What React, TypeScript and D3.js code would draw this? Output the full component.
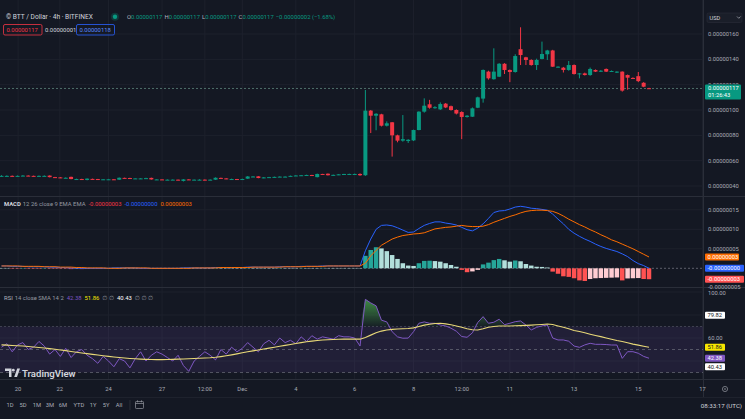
import React from "react";
import * as d3 from "d3";

// ---------- DATA (price in units of 0.00000001 USD) ----------
const ohlc: [number, number, number, number][] = [
  [48,48.5,47.5,48],[48,48.4,47.6,48],[48,48.3,47.5,47.8],[47.8,48.3,47.6,48],[48,48.6,47.8,48.2],
  [48.2,48.4,47.8,48],[48,48.2,47.5,47.8],[47.8,48.3,47.6,48],[48,48.4,47.7,48],[48.2,48.4,46.8,47],
  [47,47.2,46.5,46.8],[46.8,47,46.2,46.5],[46.5,46.8,46.2,46.5],[47.2,47.4,45.3,45.5],[45.5,45.8,45.2,45.5],
  [45.5,45.7,45,45.3],[44.8,46,44.5,45.8],[45.6,45.8,45.2,45.5],[45.5,45.6,45.1,45.3],[45.3,45.5,45,45.3],
  [45.3,45.6,45.1,45.3],[45.3,45.5,44.9,45.1],[45,46.7,44.8,46.5],[46.4,46.6,46,46.3],[46.3,46.5,45.8,46],
  [46,46.2,45.8,46],[46,46.3,45.7,46],[46,46.5,45.9,46.2],[46.4,46.6,45,45.2],[45.2,45.4,44.9,45.2],
  [45.2,45.3,44.8,45],[45,45.2,44.7,45],[45,45.3,44.8,45],[45,45.1,44.5,44.8],[44,45.4,43.6,45.2],
  [45.2,45.4,44.8,45],[45,45.2,44.8,45],[45,45.3,44.6,45],[45,45.2,44.5,44.8],[44.8,45.2,44.6,45],
  [45,46.8,44.8,46.5],[46.4,46.6,45.8,46],[46,46.1,45.4,45.5],[45.5,45.8,45.2,45.5],[45.5,45.6,45.1,45.3],
  [45.3,45.8,45.2,45.5],[45.8,47.8,45.6,47.5],[47.5,47.8,47.2,47.5],[47.6,47.8,46.1,46.3],[46.3,47,46.1,46.8],
  [46.8,47.2,46.6,47],[47,47.4,46.8,47.2],[47.2,47.6,47,47.4],[47.4,47.6,47.1,47.4],[47.6,48.2,47.5,48],
  [48,48.5,47.9,48.3],[48.3,48.7,48.1,48.5],[48.5,48.9,48.3,48.7],[48.7,48.8,48.2,48.5],[47,49.8,46.8,49.5],
  [49.5,49.6,49.1,49.3],[49.7,49.9,48.3,48.5],[48.5,49,48.3,48.8],[48.8,49.3,48.6,49.2],[49.2,49.6,49,49.5],
  [49.5,49.7,49.3,49.5],[49.5,49.8,49.2,49.5],
  [49.5,50,48,48.5],[48.5,115.8,48,99.5],[99.5,100,81.8,95.5],[95.5,97.5,84,97],[96.6,97,87,87.6],
  [87.6,91,87,89.5],[90.3,90.5,63.2,80],[80,80.5,74.5,75.8],[75.8,96,75,77],[75.5,77,74,76.5],
  [76,84.5,75.5,84.2],[84.2,99,84,98.7],[98.7,109.2,97.9,103.4],[104.5,108,101,101.8],[101.8,103,101,102.2],
  [100.5,106,100,104.7],[105,105.5,101.5,102],[103,103.5,99.5,100],[100,100.5,96.5,97.2],[98.4,99,77,94.5],
  [94.5,96,94,95.5],[94.7,102,94.5,101.3],[101.8,110.5,101.5,110],[109,132,105.8,131.6],[130.3,131,124,125],
  [124.3,148.7,124,130.3],[126.3,137,126,136.5],[136.5,137,128.4,131.6],[131.6,132,122,130],[130,144,129.5,142.6],
  [148,165.3,135.5,143.4],[141.6,142,135.5,139.5],[139.5,140,135,135.5],[135.5,140.5,131.6,139.5],[140.3,154,140,144.2],
  [144,147.5,139.5,147],[147,147.5,134,134.2],[134,134.5,133.5,134.2],[133.4,134,129.6,131.6],[131.6,138.7,131,135.5],
  [135.5,136,128,128.4],[128.9,129.2,125,128.9],[128.9,129.5,127.2,127.6],[127.6,133.5,127,132.4],[131.6,132,130,130.3],
  [130.3,131.5,130,131],[132.4,132.8,130,130.3],[130.8,131.2,130.4,130.8],[129.6,130.5,129.2,130.3],[130.3,130.5,114.5,115.3],
  [127.6,128,116,125.5],[125.3,125.8,124.6,125],[126.7,130,122,122.8],[121.5,122,118,118.4],[117.2,117.5,116.8,117],
];

const macdLine: number[] = [
  0.6,0.6,0.5,0.5,0.5,0.4,0.4,0.4,0.4,0.3,
  0.3,0.2,0.2,0.1,0.1,0.0,0.0,0.0,0.0,0.0,
  0.0,0.1,0.1,0.1,0.1,0.1,0.0,0.0,0.0,0.0,
  0.0,0.0,0.0,0.0,0.1,0.1,0.1,0.1,0.1,0.1,
  0.2,0.2,0.2,0.2,0.2,0.2,0.3,0.3,0.3,0.3,
  0.3,0.3,0.4,0.4,0.4,0.4,0.5,0.5,0.5,0.5,
  0.6,0.6,0.6,0.6,0.6,0.6,0.6,
  0.6,4.5,7.5,10.0,11.0,11.1,10.9,10.4,9.8,9.2,
  9.3,10.2,11.0,11.5,11.9,11.9,11.6,11.4,11.1,10.5,
  9.9,9.6,10.3,11.4,12.8,14.3,14.7,14.8,15.2,15.7,
  15.9,15.7,15.4,15.3,15.1,14.9,13.9,12.6,11.4,10.0,
  9.0,8.2,7.5,6.9,6.2,5.6,5.1,4.7,4.3,3.7,
  3.0,2.0,1.2,0.7,0.0,
];

const signalLine: number[] = [
  0.6,0.6,0.6,0.6,0.5,0.5,0.5,0.5,0.4,0.4,
  0.4,0.3,0.3,0.3,0.2,0.2,0.1,0.1,0.1,0.1,
  0.0,0.0,0.0,0.1,0.1,0.1,0.1,0.1,0.0,0.0,
  0.0,0.0,0.0,0.0,0.0,0.0,0.1,0.1,0.1,0.1,
  0.1,0.2,0.2,0.2,0.2,0.2,0.2,0.3,0.3,0.3,
  0.3,0.3,0.3,0.4,0.4,0.4,0.4,0.5,0.5,0.5,
  0.5,0.6,0.6,0.6,0.6,0.6,0.6,
  0.6,1.3,3.2,4.6,5.9,6.7,7.5,8.0,8.4,8.6,
  8.8,8.9,9.1,9.6,10.1,10.3,10.5,10.6,10.8,11.0,
  10.8,10.7,10.7,10.8,11.2,11.8,12.3,12.8,13.3,13.7,
  14.2,14.6,14.8,14.9,14.9,14.8,14.6,14.1,13.4,12.6,
  11.9,11.2,10.6,9.9,9.3,8.6,8.0,7.3,6.8,6.2,
  5.6,5.0,4.3,3.6,2.9,
];

const macdHist: number[] = [
  0,0,-0.1,-0.1,0,-0.1,-0.1,-0.1,0,-0.1,
  -0.1,-0.1,-0.1,-0.2,-0.1,-0.2,-0.1,-0.1,-0.1,-0.1,
  0,0.1,0.1,0,0,0,-0.1,-0.1,0,0,
  0,0,0,0,0.1,0.1,0,0,0,0,
  0.1,0,0,0,0,0,0.1,0,0,0,
  0,0,0.1,0,0,0,0.1,0,0,0,
  0.1,0,0,0,0,0,0,
  0.0,3.2,4.7,5.4,5.1,4.4,3.4,2.4,1.3,0.7,
  0.6,1.3,1.9,1.95,1.85,1.7,1.3,0.85,0.4,-0.4,
  -1.0,-0.8,-0.4,1.0,1.45,2.1,2.4,2.05,1.7,2.0,
  1.8,1.1,0.7,0.4,0.35,0.2,-0.85,-1.4,-2.05,-2.2,
  -2.55,-3.1,-3.25,-2.75,-2.55,-2.5,-2.45,-2.4,-2.35,-3.1,
  -2.6,-2.55,-2.5,-2.75,-2.8,
];

const rsiLine: number[] = [
  52,55,48,54,56,50,52,57,53,
  46,50,44,51,43,48,
  50,45,42,38,44,40,35,42,
  40,34,42,48,40,45,48,
  46,43,40,45,36,31,40,44,
  48,45,41,50,46,52,48,51,
  56,52,48,55,58,54,60,56,
  58,55,61,57,62,59,61,
  60,59,62,61,61,60,
  53.0,93.6,90.5,88.0,75.5,74.0,65.5,61.0,59.8,59.9,
  65.5,72.8,74.0,72.8,72.8,71.3,70.5,68.5,65.9,61.3,
  60.6,64.5,73.5,78.6,72.8,73.7,76.3,71.6,72.8,74.2,
  74.8,71.3,67.0,69.3,70.5,71.3,60.0,58.3,58.3,57.2,
  53.0,51.9,54.0,55.4,54.5,54.5,54.3,53.9,53.9,42.3,
  48.1,48.1,46.7,44.0,42.4,
];

const rsiMA: number[] = [
  54,53.8,53.5,53.2,53,52.6,52.2,51.8,51.3,50.8,
  50.2,49.6,49,48.3,47.6,47,46.4,45.8,45.2,44.6,
  44,43.5,43,42.6,42.2,41.9,41.6,41.4,41.3,41.2,
  41.2,41.3,41.4,41.6,41.8,42,42.2,42.4,42.6,42.8,
  43.2,43.8,44.5,45.3,46.2,47.1,48,48.8,49.6,50.4,
  51.2,52,52.8,53.6,54.4,55.2,56,56.7,57.3,57.8,
  58.2,58.5,58.7,58.9,59,59,59,
  59,60.5,62.5,64.5,66,67,67.5,67.8,68,68.3,
  68.8,70,71.2,72,72.6,72.8,72.3,71.5,70.5,69.3,
  68,67.2,67,68,69.3,70,70.5,70.5,70.5,70.7,
  70.8,71,71.2,71.5,71.8,72.2,71.8,70.5,69.3,68,
  66.5,65.6,64.5,63.3,62.2,61.2,60,58.9,57.8,56.9,
  55.8,54.7,53.8,52.8,51.9,
];

const xTickLabels = ["20","22","24","27","12:00","Dec","4","6","8","12:00","11","13","15","17"];
const xTickIndex = [3.1,10.9,20,30,38,45,55,66,77,86,95,107,119,131];
const priceTicks = [160,140,120,100,80,60,40];
const macdTicks = [15,10,5,-5];
const rsiGridTicks = [100,80,60,40];
const rsiTickLabels = [100,60];
const rangeButtons = ["1D","5D","1M","3M","6M","YTD","1Y","5Y","All"];
const lastPrice = 117;
const rsiBoxes = ["79.82","51.86","42.38","40.43"];

const fmt8 = (v: number) => (v < 0 ? "-" : "") + (Math.abs(v) * 1e-8).toFixed(8);

export default function App() {
  const W = 745, H = 419;
  const plotR = 703;
  const font = "Roboto, 'Noto Sans', 'DejaVu Sans', sans-serif";
  const up = "#089981", down = "#f23645";
  const grid = "#1d212c";
  const axisText = "#a9acb6";
  const bg = "#141823";

  const n = ohlc.length;
  const x = d3.scaleLinear().domain([0, n - 1]).range([1.5, 649]);
  const yP = d3.scaleLinear().domain([40, 160]).range([186, 34]);
  const yM = d3.scaleLinear().domain([0, 15]).range([268.3, 209.8]);
  const yR = d3.scaleLinear().domain([100, 60]).range([292, 338]);

  const line = (arr: number[], y: d3.ScaleLinear<number, number>) =>
    d3.line<number>().x((_, i) => x(i)).y((d) => y(d))(arr) || "";
  const obArea =
    d3.area<number>().x((_, i) => x(i)).y0(yR(70)).y1((d) => yR(Math.max(d, 70)))(rsiLine) || "";

  const histColor = (v: number, i: number) => {
    const p = i > 0 ? macdHist[i - 1] : 0;
    if (v >= 0) return p < v ? "#26a69a" : "#b2dfdb";
    return p < v ? "#ffcdd2" : "#ff5252";
  };

  const bodyW = 4.0;
  const histW = 4.5;

  return (
    <svg width={W} height={H} style={{ position: "fixed", left: 0, top: 0, display: "block" }} fontFamily={font}>
      <defs>
        <linearGradient id="ob" gradientUnits="userSpaceOnUse" x1="0" x2="0" y1={yR(100)} y2={yR(70)}>
          <stop offset="0" stopColor="#4caf50" stopOpacity="0.95" />
          <stop offset="1" stopColor="#4caf50" stopOpacity="0.05" />
        </linearGradient>
        <clipPath id="pp"><rect x={0} y={0} width={plotR} height={196} /></clipPath>
        <clipPath id="mp"><rect x={0} y={197} width={plotR} height={90} /></clipPath>
        <clipPath id="rp"><rect x={0} y={288} width={plotR} height={91} /></clipPath>
        <clipPath id="p120"><rect x={704} y={0} width={41} height={yP(lastPrice) - 4} /></clipPath>
      </defs>
      <rect x={0} y={0} width={W} height={H} fill={bg} />

      {/* vertical grid */}
      {xTickIndex.map((t, i) => (
        <line key={"vg" + i} x1={x(t)} x2={x(t)} y1={0} y2={379} stroke={grid} strokeWidth={1} />
      ))}
      {/* horizontal grid */}
      {priceTicks.map((t) => (
        <line key={"pg" + t} x1={0} x2={plotR} y1={yP(t)} y2={yP(t)} stroke={grid} />
      ))}
      {macdTicks.map((t) => (
        <line key={"mg" + t} x1={0} x2={plotR} y1={yM(t)} y2={yM(t)} stroke={grid} clipPath="url(#mp)" />
      ))}
      {rsiGridTicks.map((t) => (
        <line key={"rg" + t} x1={0} x2={plotR} y1={yR(t)} y2={yR(t)} stroke={grid} />
      ))}

      {/* pane separators */}
      <line x1={0} x2={W} y1={196.5} y2={196.5} stroke="#2a2e39" />
      <line x1={0} x2={W} y1={287.5} y2={287.5} stroke="#2a2e39" />
      <line x1={0} x2={W} y1={379.5} y2={379.5} stroke="#2a2e39" />
      <line x1={plotR + 0.5} x2={plotR + 0.5} y1={0} y2={398} stroke="#2a2e39" />

      {/* ---------- price pane ---------- */}
      <g clipPath="url(#pp)">
        <line x1={0} x2={plotR} y1={yP(lastPrice)} y2={yP(lastPrice)} stroke="#4f6e6a" strokeDasharray="2,2" />
        {ohlc.map(([o, h, l, c], i) => {
          const col = c >= o ? up : down;
          const top = yP(Math.max(o, c));
          const bh = Math.max(1, Math.abs(yP(o) - yP(c)));
          return (
            <g key={"c" + i}>
              <line x1={x(i)} x2={x(i)} y1={yP(h)} y2={yP(l)} stroke={col} strokeWidth={1} />
              <rect x={x(i) - bodyW / 2} y={top} width={bodyW} height={bh} fill={col} />
            </g>
          );
        })}
      </g>

      {/* ---------- MACD pane ---------- */}
      <g clipPath="url(#mp)">
        <line x1={0} x2={plotR} y1={yM(0)} y2={yM(0)} stroke="#5d606b" strokeDasharray="2,2" />
        {macdHist.map((v, i) => (
          <rect key={"h" + i} x={x(i) - histW / 2} y={Math.min(yM(v), yM(0))} width={histW}
            height={Math.max(0.3, Math.abs(yM(v) - yM(0)))} fill={histColor(v, i)} />
        ))}
        <path d={line(macdLine, yM)} fill="none" stroke="#2962ff" strokeWidth={1} />
        <path d={line(signalLine, yM)} fill="none" stroke="#ff6d00" strokeWidth={1} />
      </g>

      {/* ---------- RSI pane ---------- */}
      <g clipPath="url(#rp)">
        <rect x={0} y={yR(70)} width={plotR} height={yR(30) - yR(70)} fill="#7e57c2" fillOpacity={0.13} />
        <line x1={0} x2={plotR} y1={yR(70)} y2={yR(70)} stroke="#787b86" strokeOpacity={0.4} strokeDasharray="2,2" />
        <line x1={0} x2={plotR} y1={yR(50)} y2={yR(50)} stroke="#787b86" strokeOpacity={0.6} strokeDasharray="3,3" />
        <line x1={0} x2={plotR} y1={yR(30)} y2={yR(30)} stroke="#787b86" strokeOpacity={0.6} strokeDasharray="3,3" />
        <path d={obArea} fill="url(#ob)" />
        <path d={line(rsiLine, yR)} fill="none" stroke="#7e57c2" strokeWidth={1} />
        <path d={line(rsiMA, yR)} fill="none" stroke="#e8d878" strokeWidth={1.1} />
      </g>

      {/* ---------- header ---------- */}
      <text x={6} y={19} fontSize={6.6} fill="#d1d4dc">© BTT / Dollar · 4h · BITFINEX</text>
      <circle cx={115} cy={16.8} r={4} fill={up} fillOpacity={0.25} />
      <circle cx={115} cy={16.8} r={2.2} fill={up} />
      <text x={127} y={19} fontSize={5.9}>
        <tspan fill="#b2b5be">O</tspan><tspan fill={up}>0.00000117</tspan>
        <tspan fill="#b2b5be" dx={2}>H</tspan><tspan fill={up}>0.00000117</tspan>
        <tspan fill="#b2b5be" dx={2}>L</tspan><tspan fill={up}>0.00000117</tspan>
        <tspan fill="#b2b5be" dx={2}>C</tspan><tspan fill={up}>0.00000117</tspan>
        <tspan fill={up} dx={2}>−0.00000002 (−1.68%)</tspan>
      </text>
      <rect x={3.5} y={24.5} width={38.5} height={10.5} rx={1.5} fill="none" stroke={down} strokeWidth={0.8} />
      <text x={6.5} y={31.8} fontSize={5.9} fill={down}>0.00000117</text>
      <text x={45} y={31.8} fontSize={5.9} fill="#d1d4dc">0.00000001</text>
      <rect x={76.5} y={24.5} width={38} height={10.5} rx={1.5} fill="none" stroke="#2962ff" strokeWidth={0.8} />
      <text x={79.5} y={31.8} fontSize={5.9} fill="#5b8cff">0.00000118</text>

      <text x={4} y={205.5} fontSize={5.9}>
        <tspan fill="#d1d4dc" fontWeight={700}>MACD</tspan>
        <tspan fill="#9598a1" dx={2}>12 26 close 9 EMA EMA</tspan>
        <tspan fill={down} dx={3}>-0.00000003</tspan>
        <tspan fill="#2962ff" dx={3}>-0.00000000</tspan>
        <tspan fill="#ff6d00" dx={3}>0.00000003</tspan>
      </text>

      <text x={4} y={299.5} fontSize={5.9}>
        <tspan fill="#b2b5be">RSI</tspan>
        <tspan fill="#9598a1" dx={2}>14 close SMA 14 2</tspan>
        <tspan fill="#7e57c2" dx={3}>42.38</tspan>
        <tspan fill="#f7e600" dx={3}>51.86</tspan>
        <tspan fill="#9598a1" dx={3}>∅ ∅</tspan>
        <tspan fill="#ffffff" dx={3}>40.43</tspan>
        <tspan fill="#9598a1" dx={3}>∅ ∅ ∅</tspan>
      </text>

      {/* ---------- right axis ---------- */}
      <rect x={707} y={13} width={35} height={9.5} rx={1.5} fill="#1a1e29" stroke="#2a2e39" strokeWidth={0.6} />
      <text x={709.5} y={20} fontSize={5.6} fill="#d1d4dc">USD</text>
      <path d="M737,16.5 L738.8,18.3 L740.6,16.5" fill="none" stroke="#b2b5be" strokeWidth={0.7} />

      {priceTicks.map((t) => (
        <text key={"pt" + t} x={708} y={yP(t)} dy="0.35em" fontSize={5.8} fill={axisText}
          clipPath={t === 120 ? "url(#p120)" : undefined}>{fmt8(t)}</text>
      ))}
      <rect x={705} y={yP(lastPrice) - 4} width={36} height={15} fill={up} rx={1} />
      <text x={708} y={yP(lastPrice)} dy="0.35em" fontSize={5.8} fill="#ffffff">{fmt8(lastPrice)}</text>
      <text x={708} y={yP(lastPrice) + 7} dy="0.35em" fontSize={5.8} fill="#ffffff">01:26:43</text>

      {macdTicks.map((t) => (
        <text key={"mt" + t} x={708} y={yM(t) - (t < 0 ? 1 : 0)} dy="0.35em" fontSize={5.8} fill={axisText}>{fmt8(t)}</text>
      ))}
      <rect x={705} y={yM(signalLine[n - 1]) - 3.5} width={34} height={7} fill="#ff6d00" rx={1} />
      <text x={707.5} y={yM(signalLine[n - 1])} dy="0.35em" fontSize={5.8} fill="#ffffff">{fmt8(signalLine[n - 1])}</text>
      <rect x={705} y={yM(macdLine[n - 1]) - 3.5} width={39} height={7} fill="#2962ff" rx={1} />
      <text x={707.5} y={yM(macdLine[n - 1])} dy="0.35em" fontSize={5.8} fill="#ffffff">-0.00000000</text>
      <rect x={705} y={yM(macdHist[n - 1]) - 3.5} width={39} height={7} fill="#ff5252" rx={1} />
      <text x={707.5} y={yM(macdHist[n - 1])} dy="0.35em" fontSize={5.8} fill="#ffffff">{fmt8(macdHist[n - 1])}</text>

      {rsiTickLabels.map((t) => (
        <text key={"rt" + t} x={708} y={yR(t) + (t === 100 ? 0.8 : 0)} dy="0.35em" fontSize={5.8} fill={axisText}>{t.toFixed(2)}</text>
      ))}
      <rect x={705} y={yR(+rsiBoxes[0]) - 3.5} width={20} height={7} fill="#ffffff" rx={1} />
      <text x={707.5} y={yR(+rsiBoxes[0])} dy="0.35em" fontSize={5.8} fill="#131722">{rsiBoxes[0]}</text>
      <rect x={705} y={yR(+rsiBoxes[1]) - 3.5} width={20} height={7} fill="#f7e600" rx={1} />
      <text x={707.5} y={yR(+rsiBoxes[1])} dy="0.35em" fontSize={5.8} fill="#131722">{rsiBoxes[1]}</text>
      <rect x={705} y={yR(+rsiBoxes[2]) - 3.5} width={20} height={7} fill="#7e57c2" rx={1} />
      <text x={707.5} y={yR(+rsiBoxes[2])} dy="0.35em" fontSize={5.8} fill="#ffffff">{rsiBoxes[2]}</text>
      <rect x={705} y={yR(+rsiBoxes[2]) + 5} width={20} height={7} fill="#ffffff" rx={1} />
      <text x={707.5} y={yR(+rsiBoxes[2]) + 8.5} dy="0.35em" fontSize={5.8} fill="#131722">{rsiBoxes[3]}</text>

      {/* ---------- TradingView logo ---------- */}
      <g fill="#d1d4dc">
        <path d="M5,368.5 H11.5 V377 H9 V371 H5 Z" />
        <circle cx={13.3} cy={370.2} r={1.4} />
        <path d="M14.2,377 L17.2,368.5 H20 L17,377 Z" />
      </g>
      <text x={22} y={376.5} fontSize={9.6} fontWeight={600} fill="#d1d4dc">TradingView</text>

      {/* ---------- x axis ---------- */}
      {xTickLabels.map((t, i) => (
        <text key={"xt" + i} x={x(xTickIndex[i])} y={389} dy="0.35em" fontSize={5.8} textAnchor="middle" fill={axisText}>{t}</text>
      ))}
      <circle cx={725} cy={389} r={2.6} fill="none" stroke="#9598a1" strokeWidth={0.7} />
      <circle cx={725} cy={389} r={0.8} fill="#9598a1" />

      {/* ---------- bottom toolbar ---------- */}
      <line x1={0} x2={W} y1={397.5} y2={397.5} stroke="#1e222d" />
      {rangeButtons.map((b, i) => (
        <text key={"rb" + i} x={[10, 23, 37, 50, 63, 79, 93, 106, 119][i]} y={405} dy="0.35em" fontSize={5.8}
          textAnchor="middle" fill={axisText}>{b}</text>
      ))}
      <line x1={130} x2={130} y1={400} y2={410} stroke="#2a2e39" />
      <g fill="none" stroke="#9598a1" strokeWidth={0.7}>
        <rect x={135.5} y={401.5} width={8} height={7} rx={0.8} />
        <line x1={135.5} x2={143.5} y1={403.5} y2={403.5} />
        <line x1={137.5} x2={137.5} y1={400.3} y2={402.3} />
        <line x1={141.5} x2={141.5} y1={400.3} y2={402.3} />
      </g>
      <text x={742} y={405.5} dy="0.35em" fontSize={6.2} textAnchor="end" fill="#d1d4dc">08:33:17 (UTC)</text>
    </svg>
  );
}
